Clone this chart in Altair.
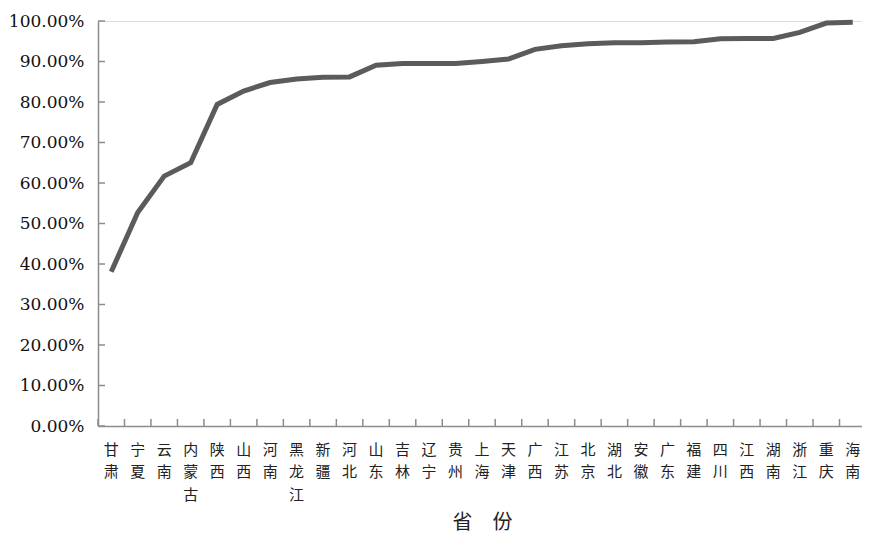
import altair as alt
import pandas as pd

provinces = ["甘肃", "宁夏", "云南", "内蒙古", "陕西", "山西", "河南", "黑龙江", "新疆", "河北",
             "山东", "吉林", "辽宁", "贵州", "上海", "天津", "广西", "江苏", "北京", "湖北",
             "安徽", "广东", "福建", "四川", "江西", "湖南", "浙江", "重庆", "海南"]
values = [0.381, 0.527, 0.617, 0.650, 0.794, 0.827, 0.848, 0.857, 0.861, 0.862,
          0.891, 0.895, 0.895, 0.895, 0.900, 0.906, 0.930, 0.939, 0.944, 0.946,
          0.946, 0.948, 0.949, 0.956, 0.957, 0.957, 0.972, 0.995, 0.997]
y_ticks = [0.0, 0.1, 0.2, 0.3, 0.4, 0.5, 0.6, 0.7, 0.8, 0.9, 1.0]

W, H = 764, 405
X_RANGE = 768
AXIS_GRAY = "#8c8c8c"
SERIF = "DejaVu Serif"

df = pd.DataFrame({"prov": provinces, "val": values})
tick_df = pd.DataFrame({"t": y_ticks})

x_scale = alt.Scale(paddingInner=0, paddingOuter=0, range=[0, X_RANGE])
y_scale = alt.Scale(domain=[0, 1])

line = alt.Chart(df).mark_line(color="#5b5b5b", strokeWidth=5, strokeJoin="miter").encode(
    x=alt.X("prov:N", sort=provinces, title="省　份", scale=x_scale,
            axis=alt.Axis(labelAngle=0, labelExpr="split(datum.label, '')")),
    y=alt.Y("val:Q", scale=y_scale, title=None,
            axis=alt.Axis(values=y_ticks, format=".2%", labelFont=SERIF,
                          labelFontSize=17, labelColor="#111111", labelPadding=14)),
)

y_tick_rules = alt.Chart(tick_df).mark_rule(color=AXIS_GRAY, strokeWidth=1.5).encode(
    y=alt.Y("t:Q", scale=y_scale, title=None),
    x=alt.value(0), x2=alt.value(7),
)

x_tick_rules = alt.Chart(df).mark_rule(color=AXIS_GRAY, strokeWidth=1.5).encode(
    x=alt.X("prov:N", sort=provinces, bandPosition=0, title="省　份"),
    y=alt.value(H - 7), y2=alt.value(H),
)

chart = alt.layer(line, y_tick_rules, x_tick_rules).properties(
    width=W, height=H,
    autosize=alt.AutoSizeParams(type="none"),
    padding={"left": 90, "top": 13, "right": 0, "bottom": 109},
).configure_view(stroke=None).configure(background="white").configure_axis(
    grid=False, ticks=False, domainColor=AXIS_GRAY, domainWidth=1.5,
).configure_axisX(
    labelAngle=0, labelBaseline="top", labelLineHeight=22.5,
    labelFont="Noto Sans CJK SC", labelFontSize=15, labelColor="#222222",
    labelPadding=16, titleFont="Noto Sans CJK SC", titleFontSize=20,
    titleFontWeight="normal", titleColor="#222222", titlePadding=10,
).configure_axisY(
    labelFont=SERIF, labelFontSize=17, labelColor="#111111", labelPadding=14,
)

chart.save("out.html", embed_options={"renderer": "svg", "actions": False})
